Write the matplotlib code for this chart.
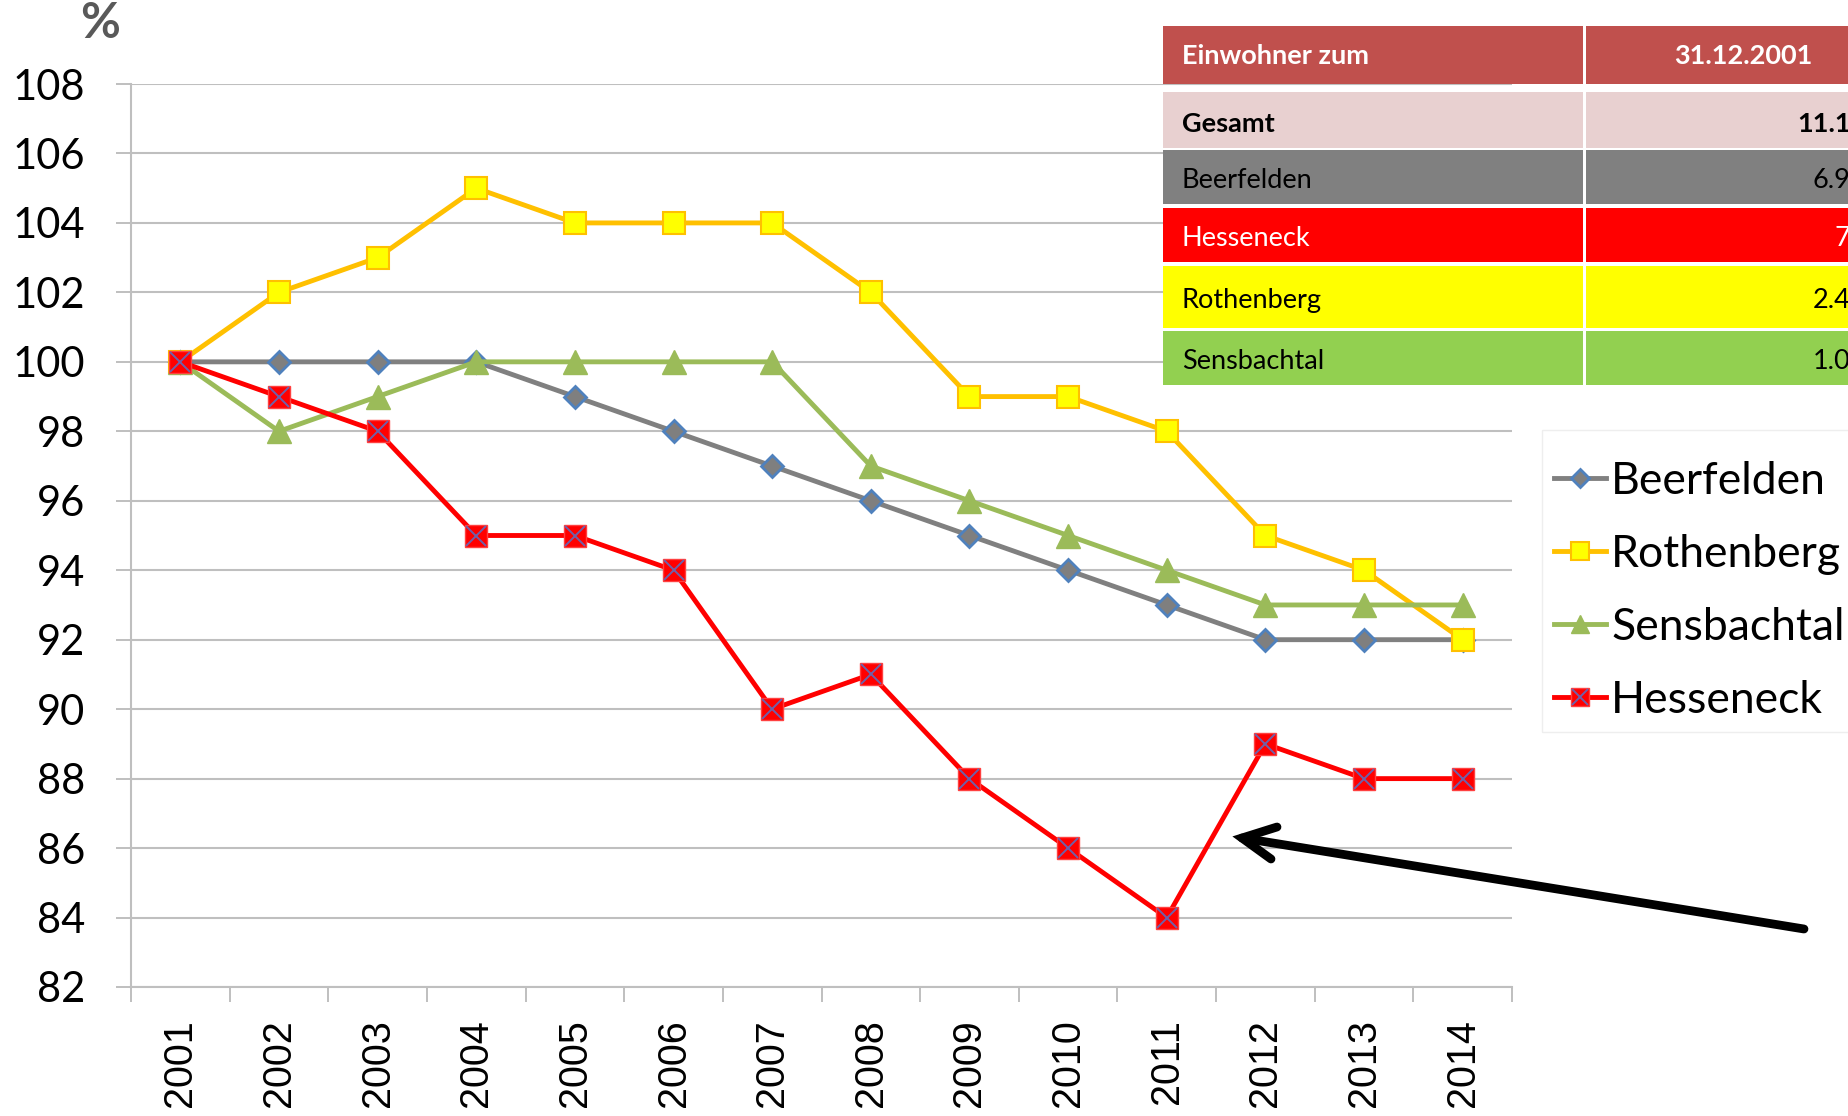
import numpy as np
import matplotlib
matplotlib.use("Agg")
import matplotlib.pyplot as plt
from matplotlib.legend_handler import HandlerTuple
from matplotlib.patches import Rectangle

# ---------------- data ----------------
years = [2001, 2002, 2003, 2004, 2005, 2006, 2007, 2008, 2009, 2010, 2011, 2012, 2013, 2014]
beerfelden = [100, 100, 100, 100, 99, 98, 97, 96, 95, 94, 93, 92, 92, 92]
rothenberg = [100, 102, 103, 105, 104, 104, 104, 102, 99, 99, 98, 95, 94, 92]
sensbachtal = [100, 98, 99, 100, 100, 100, 100, 97, 96, 95, 94, 93, 93, 93]
hesseneck = [100, 99, 98, 95, 95, 94, 90, 91, 88, 86, 84, 89, 88, 88]
y_ticks = list(range(82, 109, 2))
series_names = ["Beerfelden", "Rothenberg", "Sensbachtal", "Hesseneck"]

table_header = ["Einwohner zum", "31.12.2001"]
table_rows = ["Gesamt", "Beerfelden", "Hesseneck", "Rothenberg", "Sensbachtal"]
table_values = ["11.130", "6.955", "725", "2.415", "1.035"]

# ---------------- figure ----------------
W, H = 1849, 1116
fig = plt.figure(figsize=(W / 100, H / 100), dpi=100)
CAL = ["Lato", "DejaVu Sans"]
ARI = ["Liberation Sans", "DejaVu Sans"]

ax_l, ax_r, ax_t, ax_b = 131, 1512, 84, 987
ax = fig.add_axes([ax_l / W, 1 - ax_b / H, (ax_r - ax_l) / W, (ax_b - ax_t) / H])

x = np.arange(len(years))
grid_c = "#BFBFBF"

l_b, = ax.plot(x, beerfelden, color="#808080", lw=3.5, marker="D", ms=11,
               mfc="#7F7F7F", mec="#4F81BD", mew=2, zorder=3)
l_r, = ax.plot(x, rothenberg, color="#FFC000", lw=3.5, marker="s", ms=15.5,
               mfc="#FFFF00", mec="#FFC000", mew=1.5, zorder=4)
l_s, = ax.plot(x, sensbachtal, color="#9BBB59", lw=3.5, marker="^", ms=17,
               mfc="#9BBB59", mec="#9BBB59", mew=1, zorder=5)
l_h, = ax.plot(x, hesseneck, color="#FF0000", lw=3.5, marker="s", ms=16,
               mfc="#FF0000", mec="#FF4040", mew=1, zorder=6)
l_hx, = ax.plot(x, hesseneck, ls="none", marker="x", ms=14,
                mec="#7060A8", mew=1.4, zorder=7)

ax.set_xlim(-0.5, len(years) - 0.5)
ax.set_ylim(82, 108)
ax.set_yticks(y_ticks)
ax.set_yticklabels([str(v) for v in y_ticks], fontfamily=CAL, fontsize=30)
ax.tick_params(axis="y", direction="out", length=10.8, width=1.4, color=grid_c, pad=22)
ax.yaxis.grid(True, color=grid_c, lw=1.5)
ax.set_axisbelow(True)

ax.set_xticks(np.arange(-0.5, len(years)), labels=[""] * (len(years) + 1))
ax.set_xticks(x, labels=[str(y) for y in years], minor=True)
ax.tick_params(axis="x", which="major", direction="out", length=10.8, width=1.4, color=grid_c)
ax.tick_params(axis="x", which="minor", length=0, pad=23, labelrotation=90)
for lab in ax.get_xticklabels(minor=True):
    lab.set_fontfamily(ARI)
    lab.set_fontsize(28.5)

for s in ["top", "right"]:
    ax.spines[s].set_visible(False)
for s in ["left", "bottom"]:
    ax.spines[s].set_color(grid_c)
    ax.spines[s].set_linewidth(1.5)

# ---------------- overlay: table, % label, arrow, legend frame ----------------
ov = fig.add_axes([0, 0, 1, 1])
ov.set_xlim(0, W)
ov.set_ylim(H, 0)
ov.axis("off")
ov.set_zorder(3)
ov.patch.set_alpha(0)

# legend frame (faint)
ov.add_patch(Rectangle((1542, 430), 400, 302, fc="white", ec="#EEEEEE", lw=1))

leg = fig.legend(handles=[l_b, l_r, l_s, (l_h, l_hx)], labels=series_names,
                 handler_map={tuple: HandlerTuple(ndivide=1)},
                 loc="upper left", bbox_to_anchor=(1554 / W, 1 - 461 / H),
                 borderaxespad=0, prop={"family": CAL, "size": 32},
                 frameon=False, handlelength=1.17, handletextpad=0.12,
                 labelspacing=0.72, borderpad=0, markerscale=0.8, numpoints=1)
leg.set_zorder(10)

ov.text(100, 24, "%", fontfamily=CAL, fontweight="bold", fontsize=35,
        color="#595959", ha="center", va="center")

c1_l, c1_r, c2_l, c2_r = 1162.7, 1582.7, 1585.7, 1900
header_y = (26, 84.3)
row_y = [(92.3, 147.7), (150, 204.3), (207.7, 262.3), (265.7, 327.7), (330.7, 385)]
row_colors = ["#E8D0D0", "#808080", "#FF0000", "#FFFF00", "#92D050"]
row_text = ["black", "black", "white", "black", "black"]
row_weight = ["bold", "normal", "normal", "normal", "normal"]

for (y0, y1), fc in [(header_y, "#C0504D")] + list(zip(row_y, row_colors)):
    ov.add_patch(Rectangle((c1_l, y0), c1_r - c1_l, y1 - y0, fc=fc, ec="none"))
    ov.add_patch(Rectangle((c2_l, y0), c2_r - c2_l, y1 - y0, fc=fc, ec="none"))

TFS = 19.5
dy = 3.5
hy = (header_y[0] + header_y[1]) / 2 + 1
ov.text(c1_l + 19, hy, table_header[0], fontfamily=CAL, fontweight="bold",
        fontsize=TFS, color="white", ha="left", va="center")
ov.text(1743, hy, table_header[1], fontfamily=CAL, fontweight="bold",
        fontsize=TFS, color="white", ha="center", va="center")
for (y0, y1), name, val, tc, fw in zip(row_y, table_rows, table_values, row_text, row_weight):
    cy = (y0 + y1) / 2 + dy
    ov.text(c1_l + 19, cy, name, fontfamily=CAL, fontweight=fw, fontsize=TFS,
            color=tc, ha="left", va="center")
    ov.text(1882, cy, val, fontfamily=CAL, fontweight=fw, fontsize=TFS,
            color=tc, ha="right", va="center")

# arrow
tip = (1242, 838)
tail = (1804, 929)
arm1 = (1277, 827)
arm2 = (1271, 859)
kw = dict(color="black", lw=6.3, solid_capstyle="round")
ov.plot([tail[0], tip[0]], [tail[1], tip[1]], **kw)
ov.plot([arm1[0], tip[0], arm2[0]], [arm1[1], tip[1], arm2[1]], solid_joinstyle="miter", **kw)

fig.savefig("out.png", dpi=100)
